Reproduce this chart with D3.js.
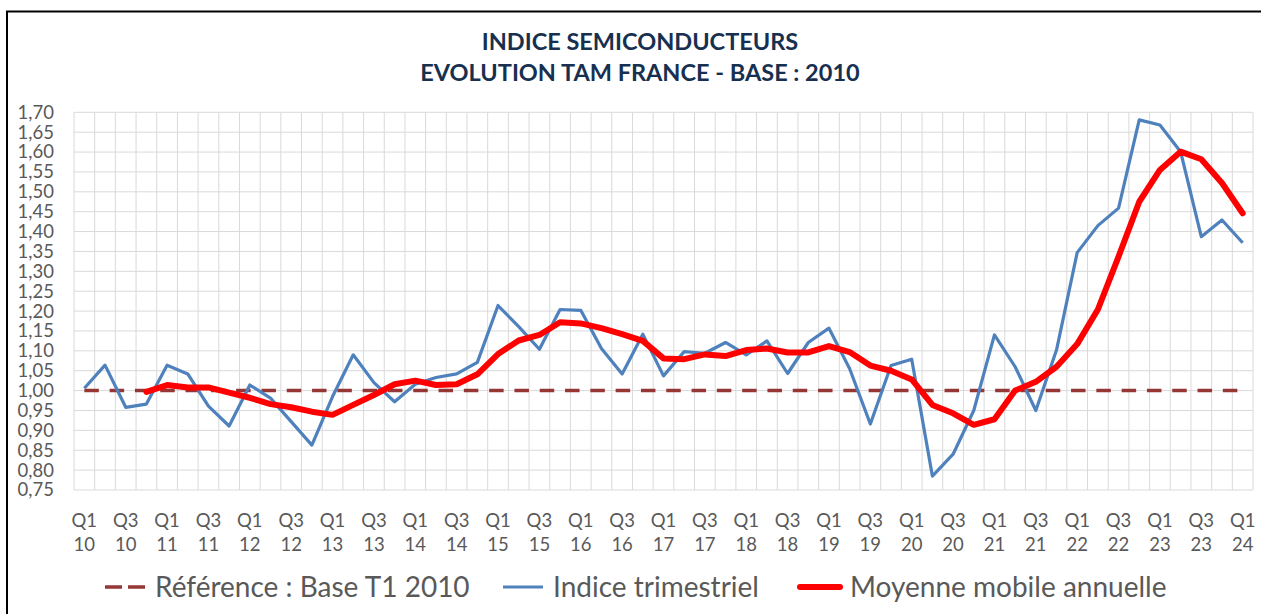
<!DOCTYPE html>
<html>
<head>
<meta charset="utf-8">
<script src="https://cdn.jsdelivr.net/npm/d3@7"></script>
<style>
  body { margin: 0; background: #fff; }
  text { font-family: Lato, "Open Sans", sans-serif; }
</style>
</head>
<body>
<svg id="chart"></svg>
<script>
// quarters Q1 2010 .. Q1 2024
const categories = [
  'Q1 10','Q2 10','Q3 10','Q4 10','Q1 11','Q2 11','Q3 11','Q4 11',
  'Q1 12','Q2 12','Q3 12','Q4 12','Q1 13','Q2 13','Q3 13','Q4 13',
  'Q1 14','Q2 14','Q3 14','Q4 14','Q1 15','Q2 15','Q3 15','Q4 15',
  'Q1 16','Q2 16','Q3 16','Q4 16','Q1 17','Q2 17','Q3 17','Q4 17',
  'Q1 18','Q2 18','Q3 18','Q4 18','Q1 19','Q2 19','Q3 19','Q4 19',
  'Q1 20','Q2 20','Q3 20','Q4 20','Q1 21','Q2 21','Q3 21','Q4 21',
  'Q1 22','Q2 22','Q3 22','Q4 22','Q1 23','Q2 23','Q3 23','Q4 23',
  'Q1 24'
];

const indiceTrimestriel = [
  1.006, 1.064, 0.958, 0.966, 1.064, 1.042, 0.961, 0.911,
  1.014, 0.981, 0.922, 0.863, 0.985, 1.090, 1.020, 0.972,
  1.016, 1.033, 1.042, 1.071, 1.214, 1.161, 1.104, 1.204,
  1.202, 1.106, 1.042, 1.142, 1.037, 1.098, 1.094, 1.121,
  1.090, 1.125, 1.043, 1.121, 1.157, 1.055, 0.916, 1.063,
  1.079, 0.785, 0.840, 0.950, 1.140, 1.060, 0.950, 1.102,
  1.347, 1.415, 1.459, 1.681, 1.668, 1.601, 1.387, 1.429,
  1.372
];

const moyenneMobile = [
  null, null, null, 0.997, 1.014, 1.008, 1.008, 0.995,
  0.982, 0.966, 0.958, 0.947, 0.939, 0.964, 0.989, 1.016,
  1.025, 1.014, 1.016, 1.041, 1.092, 1.126, 1.140, 1.172,
  1.169, 1.157, 1.142, 1.125, 1.081, 1.079, 1.091, 1.087,
  1.102, 1.106, 1.096, 1.096, 1.112, 1.097, 1.063, 1.050,
  1.028, 0.964, 0.943, 0.914, 0.928, 1.000, 1.022, 1.060,
  1.117, 1.204, 1.337, 1.475, 1.555, 1.601, 1.582, 1.522,
  1.446
];

const reference = categories.map(_ => 1.00);

const yTicks = [0.75,0.80,0.85,0.90,0.95,1.00,1.05,1.10,1.15,1.20,1.25,1.30,1.35,1.40,1.45,1.50,1.55,1.60,1.65,1.70];

const W = 1261, H = 614;
const plotL = 74, plotR = 1253, plotT = 112.3, plotB = 490;

const svg = d3.select('#chart')
  .attr('width', W)
  .attr('height', H)
  .attr('viewBox', [0, 0, W, H]);

svg.append('rect').attr('width', W).attr('height', H).attr('fill', '#fff');

// outer frame
svg.append('path')
  .attr('d', `M7,${H} L7,11.5 L${W},11.5`)
  .attr('fill', 'none')
  .attr('stroke', '#000')
  .attr('stroke-width', 2);

const x = d3.scaleBand().domain(d3.range(categories.length)).range([plotL, plotR]);
const y = d3.scaleLinear().domain([0.75, 1.70]).range([plotB, plotT]);
const cx = i => x(i) + x.bandwidth() / 2;

// grid
const grid = svg.append('g').attr('stroke', '#d9d9d9').attr('stroke-width', 1);
grid.selectAll('line.h')
  .data(yTicks)
  .enter().append('line')
    .attr('class', 'h')
    .attr('x1', plotL).attr('x2', plotR)
    .attr('y1', d => y(d)).attr('y2', d => y(d));
grid.selectAll('line.v')
  .data(d3.range(categories.length + 1))
  .enter().append('line')
    .attr('class', 'v')
    .attr('x1', i => plotL + i * x.bandwidth()).attr('x2', i => plotL + i * x.bandwidth())
    .attr('y1', plotT).attr('y2', plotB);

// y axis labels
const yAxis = d3.axisLeft(y)
  .tickValues(yTicks)
  .tickSize(0)
  .tickPadding(0)
  .tickFormat(d => d3.format('.2f')(d).replace('.', ','));
svg.append('g')
  .attr('transform', `translate(54,0)`)
  .call(yAxis)
  .call(g => g.select('.domain').remove())
  .call(g => g.selectAll('text')
    .attr('fill', '#595959')
    .style('font-size', '18.5px')
    .style('font-family', 'Lato, sans-serif'));

// x axis labels (every other quarter)
const xl = svg.append('g');
const shown = d3.range(categories.length).filter(i => i % 2 === 0);
shown.forEach(i => {
  const [q, yr] = categories[i].split(' ');
  const t = xl.append('text')
    .attr('x', cx(i))
    .attr('text-anchor', 'middle')
    .attr('fill', '#595959')
    .style('font-size', '18.5px');
  t.append('tspan').attr('x', cx(i)).attr('y', 527).text(q);
  t.append('tspan').attr('x', cx(i)).attr('y', 551).text(yr);
});

const line = d3.line()
  .defined(d => d != null)
  .x((d, i) => cx(i))
  .y(d => y(d));

svg.append('path')
  .datum(reference)
  .attr('d', line)
  .attr('fill', 'none')
  .attr('stroke', '#953735')
  .attr('stroke-width', 3.5)
  .attr('stroke-dasharray', '14.5,10.8');

svg.append('path')
  .datum(indiceTrimestriel)
  .attr('d', line)
  .attr('fill', 'none')
  .attr('stroke', '#4f81bd')
  .attr('stroke-width', 3.2)
  .attr('stroke-linejoin', 'round');

svg.append('path')
  .datum(moyenneMobile)
  .attr('d', line)
  .attr('fill', 'none')
  .attr('stroke', '#ff0000')
  .attr('stroke-width', 6)
  .attr('stroke-linejoin', 'round')
  .attr('stroke-linecap', 'round');

// title
const title = svg.append('text')
  .attr('text-anchor', 'middle')
  .attr('fill', '#17304f')
  .style('font-size', '23.5px')
  .style('font-weight', 'bold');
title.append('tspan').attr('x', 640).attr('y', 50).text('INDICE SEMICONDUCTEURS');
title.append('tspan').attr('x', 640).attr('y', 81).text('EVOLUTION TAM FRANCE - BASE : 2010');

// legend
const legend = [
  { label: 'Référence : Base T1 2010', color: '#953735', width: 3.5, dash: '17,6', x: 105 },
  { label: 'Indice trimestriel', color: '#4f81bd', width: 3.2, dash: null, x: 503 },
  { label: 'Moyenne mobile annuelle', color: '#ff0000', width: 6, dash: null, x: 800 }
];
const lg = svg.append('g');
legend.forEach(d => {
  lg.append('line')
    .attr('x1', d.x).attr('x2', d.x + 40)
    .attr('y1', 587).attr('y2', 587)
    .attr('stroke', d.color)
    .attr('stroke-width', d.width)
    .attr('stroke-linecap', d.width > 4 ? 'round' : 'butt')
    .attr('stroke-dasharray', d.dash);
  lg.append('text')
    .attr('x', d.x + 50)
    .attr('y', 597)
    .attr('fill', '#595959')
    .style('font-size', '28px')
    .text(d.label);
});
</script>
</body>
</html>
